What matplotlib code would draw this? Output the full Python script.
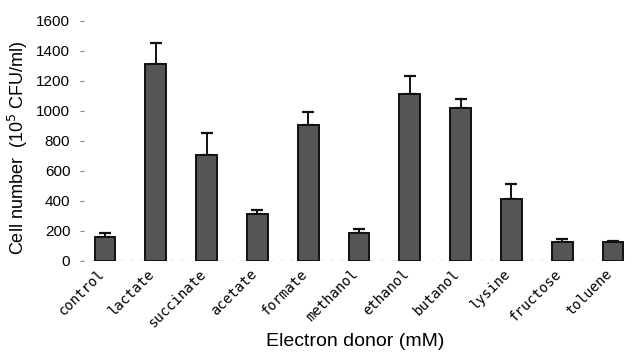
import matplotlib
matplotlib.use("Agg")
import matplotlib.pyplot as plt
import matplotlib.transforms as mtransforms
import numpy as np

categories = ["control", "lactate", "succinate", "acetate", "formate", "methanol",
              "ethanol", "butanol", "lysine", "fructose", "toluene"]
values = [160, 1313, 707, 313, 907, 187, 1113, 1020, 413, 127, 127]
errors = [27, 140, 146, 27, 86, 26, 120, 60, 100, 20, 6]
yticks = [0, 200, 400, 600, 800, 1000, 1200, 1400, 1600]

fig = plt.figure(figsize=(6.36, 3.52), dpi=100)
W, H = 636, 352
left, right, top, bottom = 80, 632, 21, 261
ax = fig.add_axes([left / W, 1 - bottom / H, (right - left) / W, (bottom - top) / H])

x = np.arange(len(categories))
ax.bar(x, values, width=0.41, color="#555555", edgecolor="#111111", linewidth=1.4, zorder=3)
ax.errorbar(x, values, yerr=[np.zeros(len(errors)), errors], fmt="none",
            ecolor="#111111", elinewidth=1.4, capsize=4.5, capthick=1.6, zorder=2)
ax.axhline(0, color="#777777", lw=0.9, ls=(0, (3, 5)), zorder=1)

ax.set_xlim(-0.492, 10.374)
ax.set_ylim(0, 1600)
for s in ax.spines.values():
    s.set_visible(False)

ax.set_yticks(yticks)
ax.set_yticklabels([str(v) for v in yticks], fontfamily="Liberation Sans", fontsize=11)
ax.tick_params(axis="y", direction="in", length=3, width=0.8, color="#888888", pad=7)
ax.set_xticks(x)
ax.set_xticklabels(categories, rotation=45, ha="right", rotation_mode="anchor",
                   fontfamily="DejaVu Sans Mono", fontsize=10)
ax.tick_params(axis="x", length=0, pad=4)
offset = mtransforms.ScaledTranslation(-8 / 100, 0, fig.dpi_scale_trans)
for lab in ax.get_xticklabels():
    lab.set_transform(lab.get_transform() + offset)

fig.text(355 / W, 1 - 341 / H, "Electron donor (mM)", ha="center", va="center",
         fontfamily="Liberation Sans", fontsize=14)
fig.text(18 / W, 1 - 148 / H, "Cell number  (10$^5$ CFU/ml)", ha="center", va="center",
         rotation=90, fontfamily="Liberation Sans", fontsize=13)

fig.savefig("out.png", dpi=100)
